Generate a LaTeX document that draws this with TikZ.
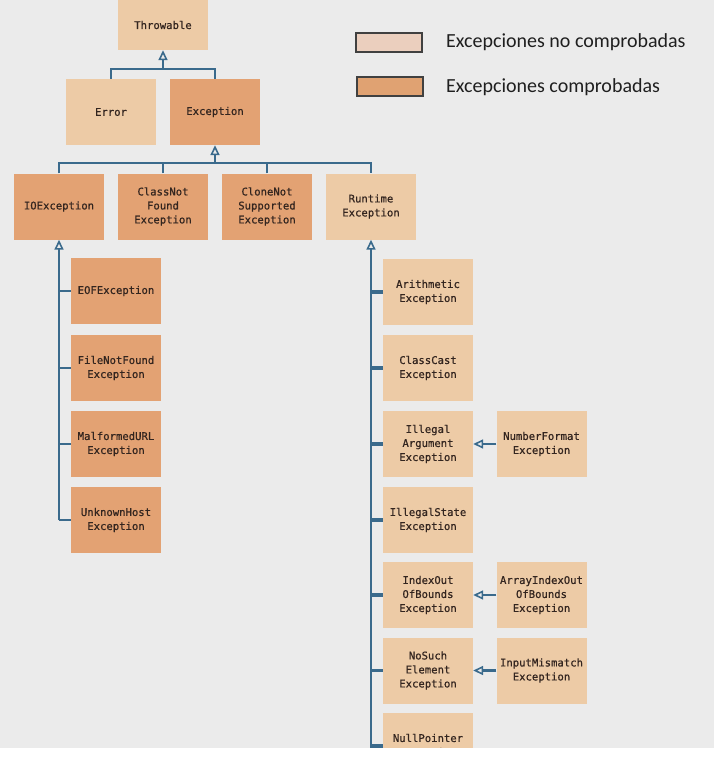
\documentclass[tikz,border=0pt]{standalone}
\usepackage{fontspec}
\usetikzlibrary{arrows.meta,calc}
\newfontfamily\boxfont[FakeBold=0.7]{DejaVu Sans Mono}
\newfontfamily\legfont{Carlito}
\definecolor{bgc}{HTML}{EBEBEB}
\definecolor{unchk}{HTML}{EDCBA6}
\definecolor{chk}{HTML}{E3A273}
\definecolor{lnc}{HTML}{3A6A8C}
\definecolor{txc}{HTML}{33251F}
\definecolor{legun}{HTML}{EBCFBE}
\definecolor{legch}{HTML}{E0A272}
\begin{document}
\begin{tikzpicture}[x=1pt,y=-1pt,
 cls/.style={minimum width=90pt,minimum height=66pt,inner sep=0pt,align=center,text=txc,font=\boxfont\fontsize{10.6}{14}\selectfont},
 uc/.style={cls,fill=unchk},
 ck/.style={cls,fill=chk},
 conn/.style={draw=lnc,line width=2.2pt},
 inh/.style={conn,-{Triangle[length=10pt,width=9pt,fill=bgc,line width=1.6pt]}},
 ltick/.style={draw=lnc,line width=2.2pt},
 rtick/.style={draw=lnc,line width=3.5pt},
 legbox/.style={draw=black!75,line width=1.5pt,minimum width=66pt,minimum height=19pt,inner sep=0pt},
 legtext/.style={anchor=west,inner sep=0pt,font=\legfont\fontsize{20}{22}\selectfont,text=black!88}]
\useasboundingbox (0,0) rectangle (714,757);
\fill[bgc] (0,0) rectangle (714,748);

% legend
\node[legbox,fill=legun] (leg1) at (389,42.5) {};
\node[legtext] (leg1t) at (446,42.5) {Excepciones no comprobadas};
\node[legbox,fill=legch] (leg2) at (390,86.5) {};
\node[legtext] (leg2t) at (446,87.5) {Excepciones comprobadas};

% top
\node[uc,minimum height=50pt] (THR) at (163,25) {Throwable};
\node[uc] (ERR) at (111,112) {Error};
\node[ck] (EXC) at (215,112) {Exception};

% row 2
\node[ck] (IOE) at (59,206.5) {IOException};
\node[ck] (CNF) at (163,206.5) {ClassNot\\Found\\Exception};
\node[ck] (CNS) at (267,206.5) {CloneNot\\Supported\\Exception};
\node[uc] (RTE) at (371,206.5) {Runtime\\Exception};

% left column
\node[ck] (EOF) at (116,291) {EOFException};
\node[ck] (FNF) at (116,368) {FileNotFound\\Exception};
\node[ck] (MAL) at (116,444) {MalformedURL\\Exception};
\node[ck] (UNK) at (116,520) {UnknownHost\\Exception};

% right column
\node[uc] (ARI) at (428,292) {Arithmetic\\Exception};
\node[uc] (CCE) at (428,368) {ClassCast\\Exception};
\node[uc] (IAE) at (428,444) {Illegal\\Argument\\Exception};
\node[uc] (ISE) at (428,520) {IllegalState\\Exception};
\node[uc] (IOB) at (428,595) {IndexOut\\OfBounds\\Exception};
\node[uc] (NSE) at (428,670.5) {NoSuch\\Element\\Exception};
\node[uc] (NPE) at (428,746) {NullPointer\\Exception};

\node[uc] (NFE) at (541.5,444) {NumberFormat\\Exception};
\node[uc] (AIO) at (541.5,595) {ArrayIndexOut\\OfBounds\\Exception};
\node[uc] (IME) at (541.5,670.5) {InputMismatch\\Exception};

% Throwable tree
\draw[conn] (ERR.north) -- ++(0,-10) -| (EXC.north);
\draw[inh] ($(ERR.north)!0.5!(EXC.north)+(0,-10)$) -- (THR.south);

% Exception tree
\draw[conn] (IOE.north) -- ++(0,-10) -| (RTE.north);
\draw[conn] (CNF.north) -- ++(0,-10);
\draw[conn] (CNS.north) -- ++(0,-10);
\draw[inh] ($(EXC.south)+(0,18)$) -- (EXC.south);

% IOException children
\draw[inh] (UNK.west -| IOE.south) -- (IOE.south);
\draw[ltick] (EOF.west) -- (EOF.west -| IOE.south);
\draw[ltick] (FNF.west) -- (FNF.west -| IOE.south);
\draw[ltick] (MAL.west) -- (MAL.west -| IOE.south);
\draw[ltick] (UNK.west) -- (UNK.west -| IOE.south);

% RuntimeException children
\coordinate (rend) at ($(RTE.south)+(0,509)$);
\draw[inh] (rend) -- (RTE.south);
\draw[rtick] (ARI.west) -- (ARI.west -| RTE.south);
\draw[rtick] (CCE.west) -- (CCE.west -| RTE.south);
\draw[rtick] (IAE.west) -- (IAE.west -| RTE.south);
\draw[rtick] (ISE.west) -- (ISE.west -| RTE.south);
\draw[rtick] (IOB.west) -- (IOB.west -| RTE.south);
\draw[rtick] (NSE.west) -- (NSE.west -| RTE.south);
\draw[rtick] (NPE.west) -- (NPE.west -| RTE.south);

% side arrows
\draw[inh] (NFE.west) -- (IAE.east);
\draw[inh] (AIO.west) -- (IOB.east);
\draw[inh] (IME.west) -- (NSE.east);

% bottom cut
\fill[white] (0,748) rectangle (714,757);
\end{tikzpicture}
\end{document}
